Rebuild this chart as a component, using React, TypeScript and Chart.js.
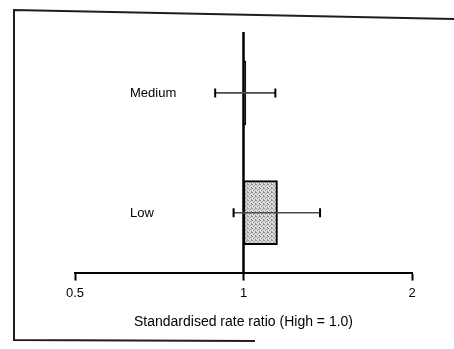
import React, { useEffect, useRef } from "react";
import { Chart, registerables } from "chart.js";

Chart.register(...registerables);

// Rate ratios by deprivation group, relative to the High group (= 1.0)
const categories = ["Medium", "Low"];
const rateRatio = [1.01, 1.15];
const lowerCI = [0.89, 0.96];
const upperCI = [1.14, 1.37];
const xTickValues = [0.5, 1, 2];
const referenceValue = 1;

const FONT = "'Liberation Sans', Arial, Helvetica, sans-serif";

function makeStipple(): CanvasPattern | string {
  const size = 4;
  const tile = document.createElement("canvas");
  tile.width = size;
  tile.height = size;
  const c = tile.getContext("2d");
  if (!c) return "#c4c4c4";
  c.fillStyle = "#dcdcdc";
  c.fillRect(0, 0, size, size);
  c.fillStyle = "#8e8e8e";
  const dots = [[0, 0], [2, 1], [1, 2], [3, 3], [3, 0]];
  dots.forEach(([dx, dy]) => c.fillRect(dx, dy, 1, 1));
  return c.createPattern(tile, "repeat") || "#c4c4c4";
}

// Hand-drawn style frame around the figure
const framePlugin = {
  id: "frame",
  beforeDraw(chart: any) {
    const ctx = chart.ctx;
    ctx.save();
    ctx.strokeStyle = "#1e1e1e";
    ctx.lineWidth = 2;
    ctx.beginPath();
    ctx.moveTo(454, 19);
    ctx.lineTo(14, 10);
    ctx.lineTo(14, 340);
    ctx.lineTo(255, 341);
    ctx.stroke();
    ctx.restore();
  },
};

// Category labels, reference line at 1.0 and confidence-interval whiskers
const forestPlugin = {
  id: "forest",
  afterDatasetsDraw(chart: any) {
    const { ctx, chartArea, scales } = chart;
    const x = scales.x;
    const y = scales.y;
    ctx.save();

    ctx.fillStyle = "#000";
    ctx.font = `13px ${FONT}`;
    ctx.textAlign = "left";
    ctx.textBaseline = "middle";
    categories.forEach((label, i) => {
      ctx.fillText(label, chartArea.left + 55, y.getPixelForValue(i) + 1);
    });

    ctx.strokeStyle = "#000";
    ctx.lineWidth = 2.5;
    const xr = x.getPixelForValue(referenceValue);
    ctx.beginPath();
    ctx.moveTo(xr, chartArea.top - 1);
    ctx.lineTo(xr, chartArea.bottom);
    ctx.stroke();

    categories.forEach((_, i) => {
      const yc = y.getPixelForValue(i);
      const xl = x.getPixelForValue(lowerCI[i]);
      const xu = x.getPixelForValue(upperCI[i]);
      ctx.strokeStyle = "#4a4a4a";
      ctx.lineWidth = 1.6;
      ctx.beginPath();
      ctx.moveTo(xl, yc);
      ctx.lineTo(xu, yc);
      ctx.stroke();
      ctx.strokeStyle = "#000";
      ctx.lineWidth = 2;
      ctx.beginPath();
      ctx.moveTo(xl, yc - 4.5);
      ctx.lineTo(xl, yc + 4.5);
      ctx.moveTo(xu, yc - 4.5);
      ctx.lineTo(xu, yc + 4.5);
      ctx.stroke();
    });
    ctx.restore();
  },
};

export default function App() {
  const canvasRef = useRef<HTMLCanvasElement | null>(null);

  useEffect(() => {
    if (!canvasRef.current) return;
    const chart = new Chart(canvasRef.current, {
      type: "bar",
      data: {
        labels: categories,
        datasets: [
          {
            data: categories.map((_, i) => [referenceValue, rateRatio[i]]) as any,
            backgroundColor: makeStipple() as any,
            borderColor: "#000",
            borderWidth: 2,
            borderSkipped: false,
            barThickness: 64,
          },
        ],
      },
      options: {
        indexAxis: "y",
        animation: false,
        responsive: false,
        maintainAspectRatio: false,
        events: [],
        layout: { padding: { left: 75, right: 42, top: 33, bottom: 14 } },
        plugins: {
          legend: { display: false },
          tooltip: { enabled: false },
          title: { display: false },
        },
        scales: {
          x: {
            type: "logarithmic",
            min: 0.5,
            max: 2,
            afterBuildTicks: (scale: any) => {
              scale.ticks = xTickValues.map((v) => ({ value: v }));
            },
            grid: {
              drawOnChartArea: false,
              drawTicks: true,
              tickLength: 8,
              tickWidth: 2,
              tickColor: "#000",
            },
            border: { display: true, color: "#000", width: 2 },
            ticks: {
              autoSkip: false,
              maxRotation: 0,
              padding: 5,
              color: "#000",
              font: { family: FONT, size: 13 },
              callback: (v: any) => String(v),
            },
            title: {
              display: true,
              text: "Standardised rate ratio (High = 1.0)",
              color: "#000",
              font: { family: FONT, size: 14 },
              padding: { top: 8, bottom: 4 },
            },
          },
          y: {
            type: "category",
            display: false,
            offset: true,
          },
        },
      },
      plugins: [framePlugin, forestPlugin],
    } as any);
    return () => chart.destroy();
  }, []);

  return (
    <div style={{ position: "fixed", left: 0, top: 0, width: 454, height: 349, background: "#fff" }}>
      <canvas ref={canvasRef} width={454} height={349} style={{ width: 454, height: 349, display: "block" }} />
    </div>
  );
}
